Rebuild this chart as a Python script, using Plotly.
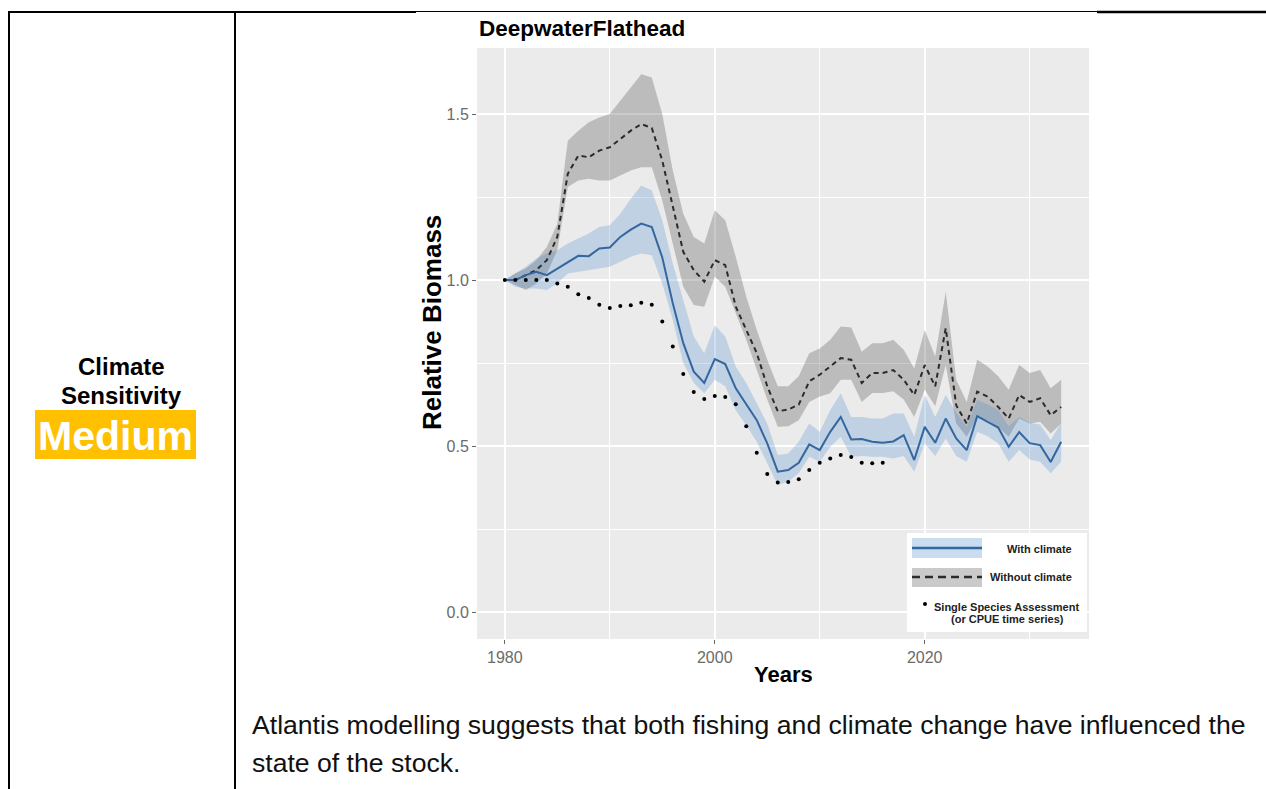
import plotly.graph_objects as go

# ---------------- data ----------------
years = list(range(1980, 2034))

with_climate = [1.0, 1.0, 1.015, 1.025, 1.015, 1.035, 1.055, 1.073, 1.072, 1.095,
                1.098, 1.13, 1.152, 1.17, 1.16, 1.068, 0.93, 0.81, 0.724, 0.69,
                0.762, 0.747, 0.674, 0.627, 0.578, 0.508, 0.423, 0.428, 0.45, 0.505,
                0.488, 0.543, 0.588, 0.52, 0.521, 0.513, 0.51, 0.514, 0.533, 0.458,
                0.558, 0.51, 0.583, 0.523, 0.488, 0.59, 0.573, 0.556, 0.498, 0.542,
                0.509, 0.503, 0.452, 0.513]
with_hi = [1.0, 1.02, 1.04, 1.065, 1.08, 1.09, 1.11, 1.125, 1.14, 1.16,
           1.165, 1.2, 1.245, 1.285, 1.27, 1.18, 1.05, 0.94, 0.83, 0.78,
           0.864, 0.83, 0.74, 0.69, 0.628, 0.568, 0.473, 0.478, 0.513, 0.568,
           0.543, 0.608, 0.659, 0.588, 0.588, 0.583, 0.583, 0.598, 0.598, 0.528,
           0.654, 0.588, 0.654, 0.60, 0.558, 0.639, 0.625, 0.608, 0.56, 0.588,
           0.57, 0.565, 0.518, 0.57]
with_lo = [1.0, 0.98, 0.975, 0.975, 0.97, 0.99, 1.02, 1.025, 1.03, 1.035,
           1.04, 1.055, 1.07, 1.08, 1.075, 0.99, 0.88, 0.75, 0.69, 0.659,
           0.70, 0.68, 0.608, 0.563, 0.513, 0.448, 0.383, 0.393, 0.418, 0.468,
           0.453, 0.498, 0.528, 0.468, 0.47, 0.468, 0.468, 0.463, 0.47, 0.423,
           0.508, 0.47, 0.523, 0.47, 0.453, 0.543, 0.53, 0.508, 0.453, 0.488,
           0.46, 0.453, 0.418, 0.453]

without_climate = [1.0, 1.0, 1.015, 1.03, 1.06, 1.13, 1.32, 1.375, 1.37, 1.39,
                   1.40, 1.425, 1.45, 1.47, 1.458, 1.36, 1.22, 1.085, 1.03, 0.995,
                   1.06, 1.045, 0.92, 0.85, 0.78, 0.68, 0.605, 0.61, 0.625, 0.695,
                   0.715, 0.74, 0.765, 0.76, 0.69, 0.72, 0.72, 0.729, 0.70, 0.654,
                   0.744, 0.68, 0.855, 0.623, 0.568, 0.664, 0.649, 0.618, 0.583, 0.654,
                   0.633, 0.644, 0.593, 0.618]
without_hi = [1.0, 1.02, 1.035, 1.06, 1.10, 1.17, 1.42, 1.45, 1.475, 1.49,
              1.50, 1.54, 1.58, 1.62, 1.61, 1.50, 1.33, 1.20, 1.13, 1.11,
              1.21, 1.18, 1.07, 0.95, 0.85, 0.76, 0.68, 0.68, 0.71, 0.78,
              0.794, 0.82, 0.86, 0.857, 0.784, 0.81, 0.81, 0.82, 0.79, 0.734,
              0.85, 0.77, 0.965, 0.70, 0.633, 0.76, 0.74, 0.71, 0.67, 0.744,
              0.72, 0.729, 0.674, 0.70]
without_lo = [1.0, 0.985, 0.97, 0.99, 1.02, 1.09, 1.28, 1.30, 1.305, 1.30,
              1.30, 1.315, 1.33, 1.34, 1.34, 1.24, 1.11, 0.98, 0.925, 0.92,
              1.01, 0.98, 0.90, 0.82, 0.73, 0.64, 0.558, 0.56, 0.578, 0.633,
              0.649, 0.659, 0.70, 0.70, 0.633, 0.66, 0.66, 0.665, 0.64, 0.588,
              0.67, 0.62, 0.744, 0.568, 0.528, 0.588, 0.578, 0.558, 0.528, 0.583,
              0.568, 0.573, 0.538, 0.568]

assess_years = list(range(1980, 2017))
assessment = [1.0, 1.0, 1.0, 1.0, 1.0, 0.99, 0.98, 0.957, 0.946, 0.926,
              0.916, 0.922, 0.924, 0.932, 0.926, 0.875, 0.80, 0.717, 0.663, 0.642,
              0.651, 0.648, 0.626, 0.56, 0.48, 0.416, 0.39, 0.392, 0.40, 0.428,
              0.45, 0.463, 0.473, 0.467, 0.45, 0.448, 0.45]

x_ticks = [1980, 2000, 2020]
y_ticks = [0.0, 0.5, 1.0, 1.5]

title_text = "DeepwaterFlathead"
x_title = "Years"
y_title = "Relative Biomass"
legend_labels = ["With climate", "Without climate", "Single Species Assessment", "(or CPUE time series)"]
body_lines = ["Atlantis modelling suggests that both fishing and climate change have influenced the",
              "state of the stock."]

# ---------------- styling ----------------
W, H = 1266, 789
PL, PR, PT, PB = 477, 1089, 48, 639
FONT = "Liberation Sans, Arial, sans-serif"
BLUE_LINE = "#3466a0"
BLUE_FILL = "rgba(60,130,200,0.25)"
GREY_FILL = "rgba(80,80,80,0.30)"
DASH_COL = "#2b2b2b"


def px(x):
    return (x - PL) / (PR - PL)


def py(y):
    return (PB - y) / (PB - PT)


fig = go.Figure()

# grey ribbon (without climate)
fig.add_trace(go.Scatter(x=years, y=without_lo, mode="lines", line=dict(width=0),
                         hoverinfo="skip", showlegend=False))
fig.add_trace(go.Scatter(x=years, y=without_hi, mode="lines", line=dict(width=0),
                         fill="tonexty", fillcolor=GREY_FILL, hoverinfo="skip", showlegend=False))
# blue ribbon (with climate)
fig.add_trace(go.Scatter(x=years, y=with_lo, mode="lines", line=dict(width=0),
                         hoverinfo="skip", showlegend=False))
fig.add_trace(go.Scatter(x=years, y=with_hi, mode="lines", line=dict(width=0),
                         fill="tonexty", fillcolor=BLUE_FILL, hoverinfo="skip", showlegend=False))
# lines
fig.add_trace(go.Scatter(x=years, y=without_climate, mode="lines",
                         line=dict(color=DASH_COL, width=2, dash="5px,4px"), showlegend=False))
fig.add_trace(go.Scatter(x=years, y=with_climate, mode="lines",
                         line=dict(color=BLUE_LINE, width=2), showlegend=False))
fig.add_trace(go.Scatter(x=assess_years, y=assessment, mode="markers",
                         marker=dict(color="black", size=4), showlegend=False))

shapes = []
annotations = []


def hline(x0, x1, y, w):
    shapes.append(dict(type="line", xref="paper", yref="paper", x0=px(x0), x1=px(x1),
                       y0=py(y), y1=py(y), line=dict(color="black", width=w), layer="above"))


def vline(x, y0, y1, w):
    shapes.append(dict(type="line", xref="paper", yref="paper", x0=px(x), x1=px(x),
                       y0=py(y0), y1=py(y1), line=dict(color="black", width=w), layer="above"))


# table borders
hline(8, 416, 12, 2)
hline(416, 1097, 11.5, 1)
hline(1097, 1266, 12, 2.5)
vline(9, 11, 789, 2)
vline(235, 11, 789, 2)

# "Medium" orange box
shapes.append(dict(type="rect", xref="paper", yref="paper", x0=px(35), x1=px(196),
                   y0=py(459), y1=py(410), fillcolor="#FFC000", line=dict(width=0), layer="above"))

# legend box and keys
shapes.append(dict(type="rect", xref="paper", yref="paper", x0=px(907), x1=px(1087),
                   y0=py(632), y1=py(533), fillcolor="white", line=dict(width=0), layer="above"))
shapes.append(dict(type="rect", xref="paper", yref="paper", x0=px(912), x1=px(982),
                   y0=py(558), y1=py(538), fillcolor="rgba(60,130,200,0.28)", line=dict(width=0), layer="above"))
shapes.append(dict(type="line", xref="paper", yref="paper", x0=px(912), x1=px(982),
                   y0=py(548), y1=py(548), line=dict(color=BLUE_LINE, width=2.5), layer="above"))
shapes.append(dict(type="rect", xref="paper", yref="paper", x0=px(912), x1=px(982),
                   y0=py(587), y1=py(568), fillcolor="rgba(80,80,80,0.30)", line=dict(width=0), layer="above"))
shapes.append(dict(type="line", xref="paper", yref="paper", x0=px(912), x1=px(982),
                   y0=py(577), y1=py(577), line=dict(color=DASH_COL, width=2.5, dash="8px,5px"), layer="above"))
shapes.append(dict(type="circle", xref="paper", yref="paper", x0=px(923), x1=px(927),
                   y0=py(606), y1=py(602), fillcolor="black", line=dict(width=0), layer="above"))


def text(x, y, s, size, bold=False, color="black", xanchor="center", angle=0):
    annotations.append(dict(x=px(x), y=py(y), xref="paper", yref="paper", text=("<b>%s</b>" % s) if bold else s,
                            showarrow=False, xanchor=xanchor, yanchor="middle", textangle=angle,
                            font=dict(family=FONT, size=size, color=color)))


text(122, 366, "Climate", 24, bold=True)
text(122, 395, "Sensitivity", 24, bold=True)
text(115, 436, "Medium", 41, bold=True, color="white")

text(477, 29, title_text, 22.5, bold=True, xanchor="left")
text(783, 674, x_title, 22, bold=True)
text(432, 323, y_title, 26, bold=True, angle=-90)

text(1074, 549, legend_labels[0], 11, bold=True, color="#222", xanchor="right")
text(1074, 577, legend_labels[1], 11, bold=True, color="#222", xanchor="right")
text(1006, 607, legend_labels[2], 11, bold=True, color="#222")
text(1007, 619, legend_labels[3], 11, bold=True, color="#222")

text(250, 725, body_lines[0], 26.6, xanchor="left", color="#111")
text(250, 763, body_lines[1], 26.6, xanchor="left", color="#111")

fig.update_layout(
    width=W, height=H, autosize=False,
    margin=dict(l=PL, r=W - PR, t=PT, b=H - PB, pad=0),
    paper_bgcolor="white", plot_bgcolor="#EBEBEB",
    shapes=shapes, annotations=annotations, showlegend=False,
    font=dict(family=FONT),
)
fig.update_xaxes(range=[1977.35, 2035.65], tickmode="array", tickvals=x_ticks,
                 ticktext=[str(v) for v in x_ticks], showgrid=True, gridcolor="white", gridwidth=1.6,
                 ticks="outside", ticklen=4, tickcolor="#666", tickwidth=1,
                 tickfont=dict(size=16, color="#6b6b6b", family=FONT), zeroline=False,
                 minor=dict(tickmode="array", tickvals=[1990, 2010, 2030], showgrid=True,
                            gridcolor="white", gridwidth=0.8, ticks=""),
                 showline=False, fixedrange=True)
fig.update_yaxes(range=[-0.081, 1.699], tickmode="array", tickvals=y_ticks,
                 ticktext=["%.1f" % v for v in y_ticks], showgrid=True, gridcolor="white", gridwidth=1.6,
                 ticks="outside", ticklen=4, tickcolor="#666", tickwidth=1,
                 tickfont=dict(size=16, color="#6b6b6b", family=FONT), zeroline=False,
                 minor=dict(tickmode="array", tickvals=[0.25, 0.75, 1.25], showgrid=True,
                            gridcolor="white", gridwidth=0.8, ticks=""),
                 showline=False, fixedrange=True)

fig.write_html("out.html")
